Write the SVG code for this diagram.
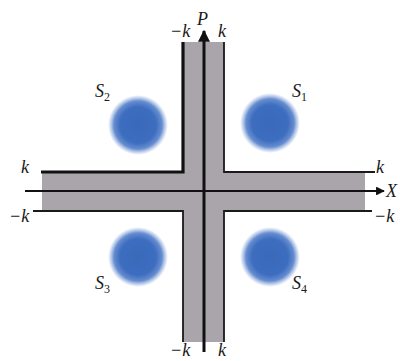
<svg xmlns="http://www.w3.org/2000/svg" width="400" height="361" viewBox="0 0 400 361">
<style>
.lbl{font-family:'Liberation Serif','DejaVu Serif',serif;font-style:italic;font-size:18px;fill:#1a1a1a}
.sub{font-style:normal;font-size:12px}
.thin{fill:none;stroke:#1a1a1a;stroke-width:1.8}
.thick{fill:none;stroke:#111;stroke-width:3.2}
.axis{fill:none;stroke:#111}
</style>
<defs>
<radialGradient id="blob">
<stop offset="0" stop-color="#3a69b9"/>
<stop offset="0.6" stop-color="#3d6dbf"/>
<stop offset="0.8" stop-color="#4a78c6" stop-opacity="0.85"/>
<stop offset="1" stop-color="#6f95d6" stop-opacity="0"/>
</radialGradient>
<marker id="arr" viewBox="0 0 10 10" refX="9" refY="5" markerWidth="4" markerHeight="4" orient="auto" markerUnits="strokeWidth">
<path d="M0,0 L10,5 L0,10 Z" fill="#111"/>
</marker>
</defs>
<rect width="400" height="361" fill="#fff"/>
<g id="band">
<path d="M42,172 H183 V42 H224 V172 H365 V211 H224 V342 H183 V211 H42 Z" fill="#a9a5aa"/>
</g>
<g id="blobs">
<g id="s1"><circle cx="270" cy="123" r="30" fill="url(#blob)"/></g>
<g id="s2"><circle cx="138" cy="125" r="30" fill="url(#blob)"/></g>
<g id="s3"><circle cx="138" cy="257" r="30" fill="url(#blob)"/></g>
<g id="s4"><circle cx="270" cy="257" r="30" fill="url(#blob)"/></g>
</g>
<g id="connectors">
<path class="thick" d="M41,172 H183 V42"/>
<path class="thin" d="M224,42 V172 H375"/>
<path class="thin" d="M33,211 H183 V342"/>
<path class="thin" d="M224,342 V211 H372"/>
<path class="axis" stroke-width="3" d="M204,352 V31" marker-end="url(#arr)"/>
<path class="axis" stroke-width="2.2" d="M25,191 H384" marker-end="url(#arr)"/>
</g>
<g id="labels" font-family="Liberation Serif, DejaVu Serif, serif">
<text class="lbl" x="170" y="37">−k</text>
<text class="lbl" x="197" y="25">P</text>
<text class="lbl" x="218" y="37">k</text>
<text class="lbl" x="21" y="173">k</text>
<text class="lbl" x="9" y="222">−k</text>
<text class="lbl" x="376" y="173">k</text>
<text class="lbl" x="386" y="197">X</text>
<text class="lbl" x="374" y="222">−k</text>
<text class="lbl" x="170" y="356">−k</text>
<text class="lbl" x="218" y="356">k</text>
<text class="lbl" x="95" y="97">S<tspan class="sub" dy="4">2</tspan></text>
<text class="lbl" x="292" y="97">S<tspan class="sub" dy="4">1</tspan></text>
<text class="lbl" x="95" y="289">S<tspan class="sub" dy="4">3</tspan></text>
<text class="lbl" x="292" y="289">S<tspan class="sub" dy="4">4</tspan></text>
</g>
</svg>
